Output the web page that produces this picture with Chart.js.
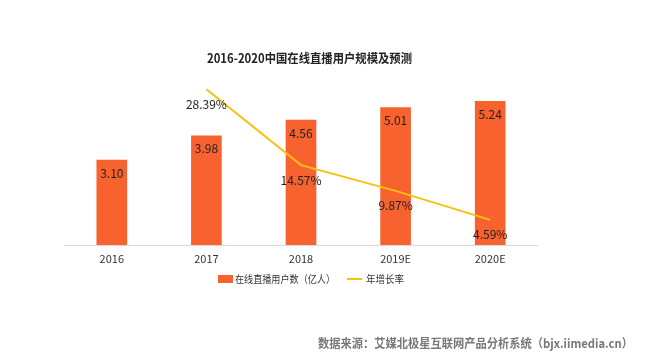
<!DOCTYPE html>
<html><head><meta charset="utf-8">
<script src="https://cdn.jsdelivr.net/npm/chart.js@4/dist/chart.umd.min.js"></script>
<style>html,body{margin:0;padding:0;background:#fff;}#wrap{width:667px;height:355px;position:relative;}</style>
</head><body><div id="wrap"><canvas id="c" width="667" height="355"></canvas></div>
<script>
const categories = ['2016','2017','2018','2019E','2020E'];
const users = [3.10, 3.98, 4.56, 5.01, 5.24];
const growth = [null, 28.39, 14.57, 9.87, 4.59];
const titleText = '2016-2020中国在线直播用户规模及预测';
const seriesNames = ['在线直播用户数（亿人）', '年增长率'];
const sourceText = '数据来源：艾媒北极星互联网产品分析系统（bjx.iimedia.cn）';

const FONT = '"Noto Sans CJK SC", "Noto Sans", sans-serif';
const BAR = '#F8622F';
const LINE = '#F5C211';

const overlay = {
  id: 'overlay',
  afterDraw(chart) {
    const ctx = chart.ctx;
    ctx.save();
    ctx.textAlign = 'center';
    ctx.textBaseline = 'middle';
    // bar labels
    ctx.fillStyle = '#222';
    ctx.font = '12px ' + FONT;
    const bm = chart.getDatasetMeta(0);
    bm.data.forEach((el, i) => {
      ctx.fillText(users[i].toFixed(2), el.x, el.y + 13);
    });
    // line labels
    const lm = chart.getDatasetMeta(1);
    lm.data.forEach((el, i) => {
      if (growth[i] == null) return;
      ctx.fillText(growth[i].toFixed(2) + '%', el.x, el.y + 15);
    });
    // title
    ctx.fillStyle = '#222';
    ctx.font = 'bold 12.5px ' + FONT;
    ctx.textAlign = 'left';
    ctx.fillText(titleText, 207, 58, 205);
    // legend
    ctx.fillStyle = BAR;
    ctx.fillRect(218, 275, 15, 8);
    ctx.fillStyle = '#333';
    ctx.font = '10.5px ' + FONT;
    ctx.fillText(seriesNames[0], 235, 279, 100);
    ctx.strokeStyle = LINE;
    ctx.lineWidth = 2;
    ctx.beginPath(); ctx.moveTo(347, 279); ctx.lineTo(362, 279); ctx.stroke();
    ctx.fillText(seriesNames[1], 366, 279, 38);
    // source
    ctx.fillStyle = '#777';
    ctx.font = 'bold 12px ' + FONT;
    ctx.fillText(sourceText, 318, 343, 315);
    ctx.restore();
  }
};

new Chart(document.getElementById('c'), {
  data: {
    labels: categories,
    datasets: [
      { type: 'bar', label: seriesNames[0], data: users, backgroundColor: BAR, barThickness: 30, yAxisID: 'y', order: 2 },
      { type: 'line', label: seriesNames[1], data: growth, borderColor: LINE, borderWidth: 2, pointRadius: 0, tension: 0, yAxisID: 'y1', order: 1, spanGaps: false }
    ]
  },
  options: {
    responsive: false,
    animation: false,
    layout: { padding: { left: 64.5, right: 129.5, top: 80.5, bottom: 90 } },
    plugins: { legend: { display: false }, title: { display: false }, tooltip: { enabled: false } },
    scales: {
      x: {
        grid: { display: false, drawTicks: false },
        border: { display: true, color: '#d9d9d9', width: 1 },
        ticks: { color: '#333', font: { size: 11, family: FONT }, padding: 7 },
        afterFit(s) { s.height = 20; }
      },
      y: { display: false, min: 0, max: 6 },
      y1: { display: false, min: 0, max: 30 }
    }
  },
  plugins: [overlay]
});
</script></body></html>
